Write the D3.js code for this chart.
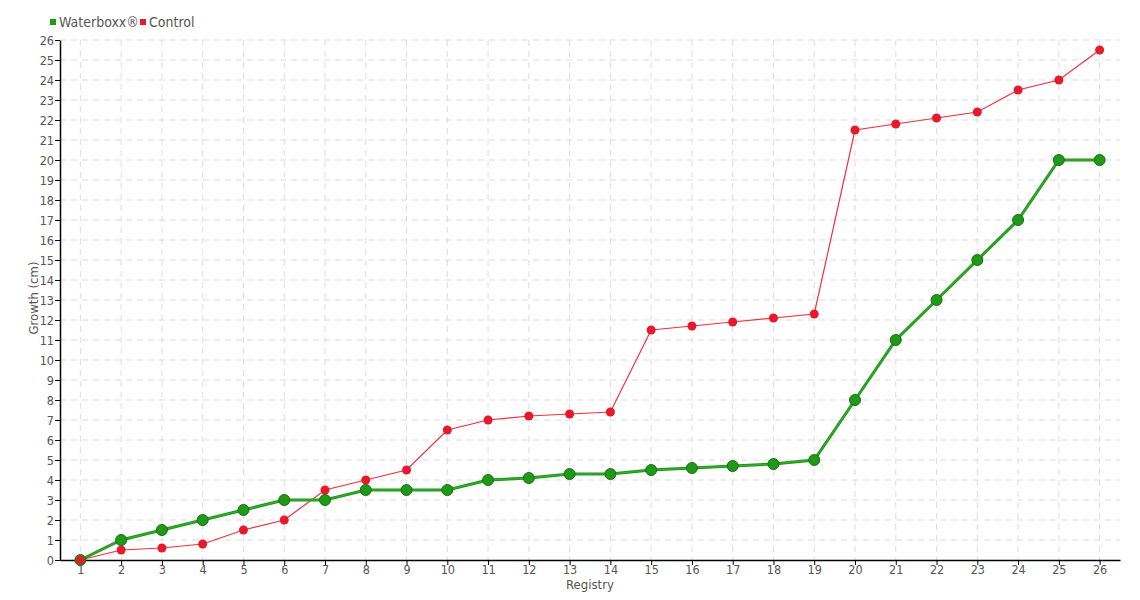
<!DOCTYPE html>
<html>
<head>
<meta charset="utf-8">
<script src="https://cdn.jsdelivr.net/npm/d3@7"></script>
<style>
  body { margin: 0; background: #fff; }
  svg text { font-family: "DejaVu Sans Condensed", "DejaVu Sans", sans-serif; font-stretch: condensed; fill: #555; }
</style>
</head>
<body>
<svg id="chart" width="1140" height="600"></svg>
<script>
const registry = d3.range(1, 27)
const waterboxx = [0, 1, 1.5, 2, 2.5, 3, 3, 3.5, 3.5, 3.5, 4, 4.1, 4.3, 4.3, 4.5, 4.6, 4.7, 4.8, 5, 8, 11, 13, 15, 17, 20, 20]
const control = [0, 0.5, 0.6, 0.8, 1.5, 2, 3.5, 4, 4.5, 6.5, 7, 7.2, 7.3, 7.4, 11.5, 11.7, 11.9, 12.1, 12.3, 21.5, 21.8, 22.1, 22.4, 23.5, 24, 25.5]
const yTicks = d3.range(0, 27)

const margin = { left: 60, right: 20, top: 40, bottom: 40 }
const width = 1140, height = 600

const svg = d3.select('#chart')

const x = d3.scaleLinear().domain([0.5, 26.5]).range([margin.left, width - margin.right])
const y = d3.scaleLinear().domain([0, 26]).range([height - margin.bottom, margin.top])

// grid
const grid = svg.append('g').attr('stroke', '#ddd').attr('stroke-dasharray', '6,5')
grid.selectAll('.h').data(yTicks.slice(1)).enter().append('line')
    .attr('x1', margin.left).attr('x2', width - margin.right)
    .attr('y1', d => y(d)).attr('y2', d => y(d))
grid.selectAll('.v').data(registry).enter().append('line')
    .attr('x1', d => x(d)).attr('x2', d => x(d))
    .attr('y1', margin.top).attr('y2', height - margin.bottom)

// axes
const xAxis = svg.append('g')
    .attr('transform', `translate(0,${height - margin.bottom})`)
    .call(d3.axisBottom(x).tickValues(registry).tickSize(5).tickSizeOuter(0).tickFormat(d3.format('d')))
const yAxis = svg.append('g')
    .attr('transform', `translate(${margin.left},0)`)
    .call(d3.axisLeft(y).tickValues(yTicks).tickSize(5).tickSizeOuter(0).tickFormat(d3.format('d')))
;[xAxis, yAxis].forEach(a => {
    a.select('.domain').attr('stroke', '#000').attr('stroke-width', 1.5)
    a.selectAll('.tick line').attr('stroke', '#000')
    a.selectAll('.tick text').style('font-size', '12.5px').attr('fill', '#555')
})
xAxis.selectAll('.tick text').attr('y', 5)
yAxis.selectAll('.tick text').attr('x', -6)

svg.append('text').attr('x', (margin.left + width - margin.right) / 2).attr('y', 589)
    .attr('text-anchor', 'middle').style('font-size', '13px').text('Registry')
svg.append('text').attr('transform', 'translate(38,298) rotate(-90)')
    .attr('text-anchor', 'middle').style('font-size', '13px').text('Growth (cm)')

const line = d3.line().x((d, i) => x(registry[i])).y(d => y(d))

// control series
svg.append('path').datum(control).attr('d', line)
    .attr('fill', 'none').attr('stroke', '#f0303f').attr('stroke-width', 1.2)
svg.append('g').selectAll('circle').data(control).enter().append('circle')
    .attr('cx', (d, i) => x(registry[i])).attr('cy', d => y(d)).attr('r', 4.5)
    .attr('fill', '#e8192c')

// waterboxx series
svg.append('path').datum(waterboxx).attr('d', line)
    .attr('fill', 'none').attr('stroke', '#1a9a12').attr('stroke-width', 3)
svg.append('path').datum(waterboxx).attr('d', line)
    .attr('fill', 'none').attr('stroke', '#fff').attr('stroke-opacity', 0.25).attr('stroke-width', 0.7)
svg.append('g').selectAll('circle').data(waterboxx).enter().append('circle')
    .attr('cx', (d, i) => x(registry[i])).attr('cy', d => y(d)).attr('r', 5.5)
    .attr('fill', '#1f9a18').attr('stroke', '#1a6e14').attr('stroke-width', 1)

// control point at 1 drawn over green as in reference
svg.append('circle').attr('cx', x(registry[0])).attr('cy', y(control[0])).attr('r', 4.5).attr('fill', '#e8192c')

// legend
const legend = [{ name: 'Waterboxx®', color: '#1f9a18', x: 50 }, { name: 'Control', color: '#e8192c', x: 140 }]
const lg = svg.append('g').selectAll('g').data(legend).enter().append('g')
    .attr('transform', d => `translate(${d.x},22)`)
lg.append('rect').attr('x', 0).attr('y', -3).attr('width', 6).attr('height', 6).attr('fill', d => d.color)
lg.append('text').attr('x', 9).attr('y', 5).style('font-size', '14px').text(d => d.name)
</script>
</body>
</html>
